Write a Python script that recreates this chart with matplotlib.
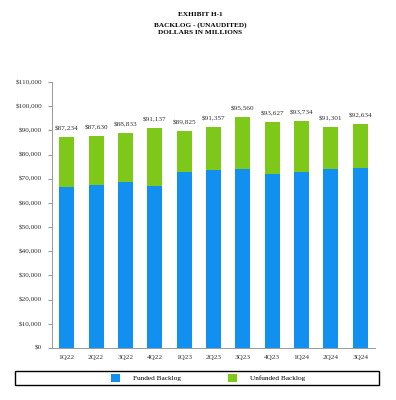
import matplotlib.pyplot as plt
from matplotlib.patches import Rectangle

quarters = ["1Q22", "2Q22", "3Q22", "4Q22", "1Q23", "2Q23", "3Q23", "4Q23", "1Q24", "2Q24", "3Q24"]
total = [87234, 87630, 88833, 91137, 89825, 91357, 95560, 93627, 93734, 91301, 92634]
funded = [66700, 67400, 68600, 67100, 72600, 73500, 74000, 72100, 72900, 74200, 74600]
unfunded = [t - f for t, f in zip(total, funded)]

blue = "#1190f0"
green = "#7ec81a"
serif = ["Liberation Serif", "DejaVu Serif"]

fig = plt.figure(figsize=(3.96, 4.0), dpi=100)
ax = fig.add_axes([52/396, 1 - 348/400, (375-52)/396, (348-82)/400])

x = range(len(quarters))
ax.bar(x, funded, width=0.51, color=blue, label="Funded Backlog")
ax.bar(x, unfunded, width=0.51, bottom=funded, color=green, label="Unfunded Backlog")

# total on top of each stack
for i, t in enumerate(total):
    ax.text(i, t + 2300, "${:,}".format(t), ha="center", va="bottom",
            fontsize=5.2, family=serif, color="#333333")

ax.set_xlim(-0.5, len(quarters) - 0.5)
ax.set_ylim(0, 110000)
ax.set_yticks(range(0, 110001, 10000))
ax.set_yticklabels(["${:,}".format(v) for v in range(0, 110001, 10000)])
ax.set_xticks(list(x))
ax.set_xticklabels(quarters)
for lab in ax.get_xticklabels() + ax.get_yticklabels():
    lab.set_family(serif)
    lab.set_fontsize(5.2)
    lab.set_color("#333333")
ax.tick_params(axis="y", length=3, color="#999999", pad=4)
ax.tick_params(axis="x", length=0, pad=5)
for s in ["top", "right"]:
    ax.spines[s].set_visible(False)
ax.spines["left"].set_color("#999999")
ax.spines["bottom"].set_color("#999999")
ax.spines["left"].set_linewidth(0.7)
ax.spines["bottom"].set_linewidth(0.7)

for yy, txt in [(14, "EXHIBIT H-1"), (25, "BACKLOG - (UNAUDITED)"), (33, "DOLLARS IN MILLIONS")]:
    fig.text(200/396, 1 - yy/400, txt, ha="center", va="center",
             fontsize=5.2, fontweight="bold", family=serif)

fig.patches.append(Rectangle((15/396, 1 - 385/400), (379-15)/396, 14/400,
                             transform=fig.transFigure, fill=False,
                             edgecolor="black", linewidth=1.0))
fig.legend(loc="center", bbox_to_anchor=(208/396, 1 - 378/400), ncol=2,
           frameon=False, prop={"family": serif, "size": 5.2},
           handlelength=1.2, handleheight=1.2, columnspacing=6.5,
           handletextpad=1.8)

fig.savefig("out.png", dpi=100)
